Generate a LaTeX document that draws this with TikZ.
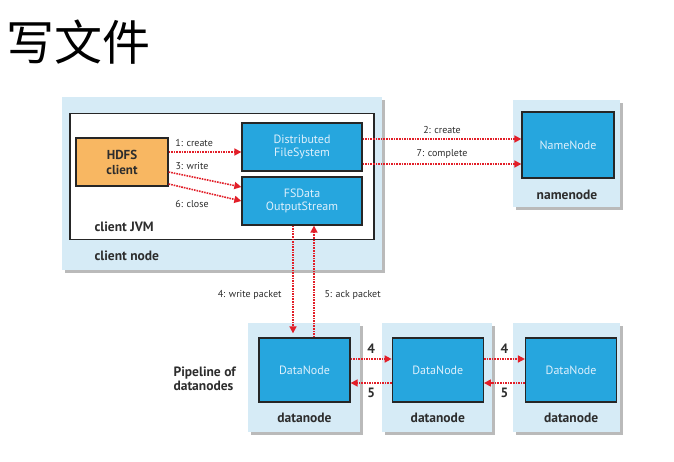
\documentclass[tikz,border=0pt]{standalone}
\usepackage{fontspec}
\setmainfont{PT Sans}
\newfontfamily\cjk{Noto Sans CJK SC}
\usetikzlibrary{positioning,shadows,arrows.meta}
\definecolor{paleblue}{RGB}{214,235,246}
\definecolor{procblue}{RGB}{38,166,222}
\definecolor{proctext}{RGB}{222,240,252}
\definecolor{hdfsorange}{RGB}{248,183,98}
\definecolor{labelgray}{RGB}{45,45,45}
\definecolor{msgred}{RGB}{226,30,40}

\begin{document}
\begin{tikzpicture}[x=1pt, y=-1pt, font=\fontsize{10}{11}\selectfont, text=labelgray,
			outer/.style={fill=paleblue, inner sep=0pt, drop shadow={shadow xshift=2.5pt, shadow yshift=-2.5pt, fill=black!45, opacity=.6}},
			proc/.style={draw=black!85, line width=1.3pt, fill=procblue, text=proctext, align=center, inner sep=0pt, font=\fontsize{12}{13}\selectfont},
			tag/.style={font=\bfseries\fontsize{13.5}{14}\selectfont},
			msg/.style={draw=msgred, densely dotted, line width=1.6pt, -{Triangle[length=7pt,width=7pt,fill=msgred]}}]
			\useasboundingbox[fill=white] (0,0) rectangle (674,462);
			\node[anchor=west, font=\cjk\fontsize{48}{48}\selectfont, text=black] (title) at (3,42) {写文件};
			\node[outer, minimum width=320pt, minimum height=173pt, anchor=north west] (clientnode) at (62,97) {};
			\node[draw=black!85, fill=white, line width=1.5pt, minimum width=304pt, minimum height=126pt, anchor=north west] (jvm) at (69,113) {};
			\node[proc, fill=hdfsorange, text=labelgray, font=\bfseries\fontsize{13}{15}\selectfont, minimum width=92pt, minimum height=48pt] (hdfs) at (122,162) {HDFS\\client};
			\node[proc, minimum width=120pt, minimum height=48pt] (dfs) at (302,147) {Distributed\\FileSystem};
			\node[proc, minimum width=120pt, minimum height=48pt] (fsdata) at (302,201) {FSData\\OutputStream};
			\node[tag, anchor=west] (jvmlabel) at (91,227) {client JVM};
			\node[tag, anchor=west] (clientlabel) at (91,256) {client node};
			\node[outer, minimum width=107pt, minimum height=107pt, anchor=north west] (namebox) at (513,100) {};
			\node[proc, minimum width=92pt, minimum height=66pt] (namenode) at (568,145) {NameNode};
			\node[tag] (namelabel) at (567,195) {namenode};
			\node[outer, minimum width=112pt, minimum height=109pt, anchor=north west] (dnbox1) at (248,323) {};
			\node[outer, minimum width=110pt, minimum height=109pt, anchor=north west] (dnbox2) at (382,323) {};
			\node[outer, minimum width=107pt, minimum height=109pt, anchor=north west] (dnbox3) at (513,323) {};
			\node[proc, minimum width=91pt, minimum height=64pt] (dn1) at (304.5,370) {DataNode};
			\node[proc, right=41pt of dn1, minimum width=91pt, minimum height=64pt] (dn2) {DataNode};
			\node[proc, right=41pt of dn2, minimum width=91pt, minimum height=64pt] (dn3) {DataNode};
			\node[tag, below=7pt of dn1] (dnlabel1) {datanode};
			\node[tag, below=7pt of dn2] (dnlabel2) {datanode};
			\node[tag, below=7pt of dn3] (dnlabel3) {datanode};
			\node[tag, align=left, anchor=west] (pipeline) at (170,379) {Pipeline of\\datanodes};
			\draw[msg] ([yshift=10pt]hdfs.east) -- ([yshift=10pt]hdfs.east -| dfs.west) node[pos=.35, above=1pt] (create) {1: create};
			\draw[msg] ([yshift=-10pt]hdfs.east) -- ([yshift=14pt]fsdata.west);
			\draw[msg] ([yshift=-22pt]hdfs.east) -- (fsdata.west);
			\node (write) at (192,166) {3: write};
			\node (close) at (192,204) {6: close};
			\draw[msg] ([yshift=8pt]dfs.east) -- ([yshift=8pt]dfs.east -| namenode.west) node[midway, above=1pt] (nncreate) {2: create};
			\draw[msg] ([yshift=-17pt]dfs.east) -- ([yshift=-17pt]dfs.east -| namenode.west) node[midway, above=1pt] (complete) {7: complete};
			\draw[msg] ([xshift=-9pt]fsdata.south) -- ([xshift=-9pt,yshift=4pt]fsdata.south |- dn1.north);
			\draw[msg] ([xshift=12pt]fsdata.south |- dn1.north) -- ([xshift=12pt]fsdata.south);
			\node[anchor=east] (writepacket) at (285,295) {4: write packet};
			\node[anchor=west] (ackpacket) at (321,295) {5: ack packet};
			\draw[msg] ([yshift=11pt]dn1.east) -- ([yshift=11pt]dn2.west) node[midway, above=1pt, tag] (fwdone) {4};
			\draw[msg] ([yshift=-13pt]dn2.west) -- ([yshift=-13pt]dn1.east) node[midway, below=1pt, tag] (ackone) {5};
			\draw[msg] ([yshift=11pt]dn2.east) -- ([yshift=11pt]dn3.west) node[midway, above=1pt, tag] (fwdtwo) {4};
			\draw[msg] ([yshift=-13pt]dn3.west) -- ([yshift=-13pt]dn2.east) node[midway, below=1pt, tag] (acktwo) {5};
\end{tikzpicture}
\end{document}
